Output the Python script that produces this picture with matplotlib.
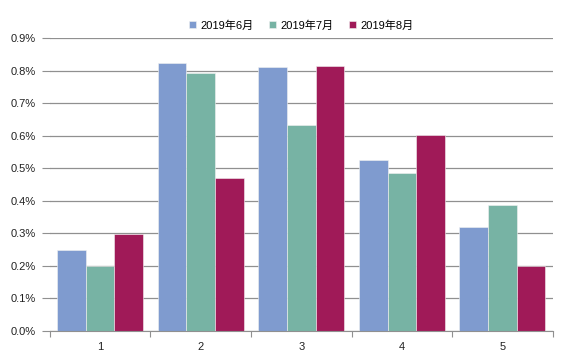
import matplotlib
matplotlib.use('Agg')
import matplotlib.pyplot as plt
import numpy as np

plt.rcParams['font.family'] = ['Liberation Sans', 'Noto Sans CJK SC', 'DejaVu Sans']

# 数据
categories = ['1', '2', '3', '4', '5']
series_names = ['2019年6月', '2019年7月', '2019年8月']
jun = [0.249, 0.824, 0.811, 0.525, 0.319]
jul = [0.200, 0.793, 0.635, 0.486, 0.389]
aug = [0.299, 0.472, 0.816, 0.604, 0.200]
yticks = [0.0, 0.1, 0.2, 0.3, 0.4, 0.5, 0.6, 0.7, 0.8, 0.9]

colors = ['#7f9bcf', '#77b3a4', '#a01a58']

fig = plt.figure(figsize=(5.8, 3.55), dpi=100)
ax = fig.add_axes([0.086, 0.0676, 0.867, 0.824])

x = np.arange(len(categories))
w = 0.285
for i, (vals, name) in enumerate(zip([jun, jul, aug], series_names)):
    ax.bar(x + (i - 1) * w, vals, width=w, color=colors[i], label=name,
           edgecolor='#f2f2f2', linewidth=0.4, zorder=2)

ax.set_xlim(-0.5, len(categories) - 0.5)
ax.set_ylim(0, 0.9)
ax.set_yticks(yticks)
ax.set_yticklabels(['%.1f%%' % v for v in yticks], fontsize=8, color='#222222')
ax.yaxis.grid(True, color='#909090', linewidth=0.9, zorder=0)

# x 轴: 类别边界刻度
ax.set_xticks(np.arange(-0.5, len(categories)), minor=False)
ax.set_xticklabels([])
ax.set_xticks(x, minor=True)
ax.set_xticklabels(categories, minor=True, fontsize=8, color='#222222')
ax.tick_params(axis='x', which='major', length=4, color='#909090', direction='out')
ax.tick_params(axis='x', which='minor', length=0, pad=8)
ax.tick_params(axis='y', length=6, color='#909090', pad=4)

for s in ['top', 'right', 'left']:
    ax.spines[s].set_visible(False)
ax.spines['bottom'].set_color('#909090')

leg = ax.legend(loc='lower center', bbox_to_anchor=(0.5, 1.0), ncol=3, frameon=False,
                fontsize=8, handlelength=0.6, handleheight=0.6, handletextpad=0.4,
                columnspacing=1.4, borderaxespad=0.3)

fig.savefig('out.png', dpi=100)
